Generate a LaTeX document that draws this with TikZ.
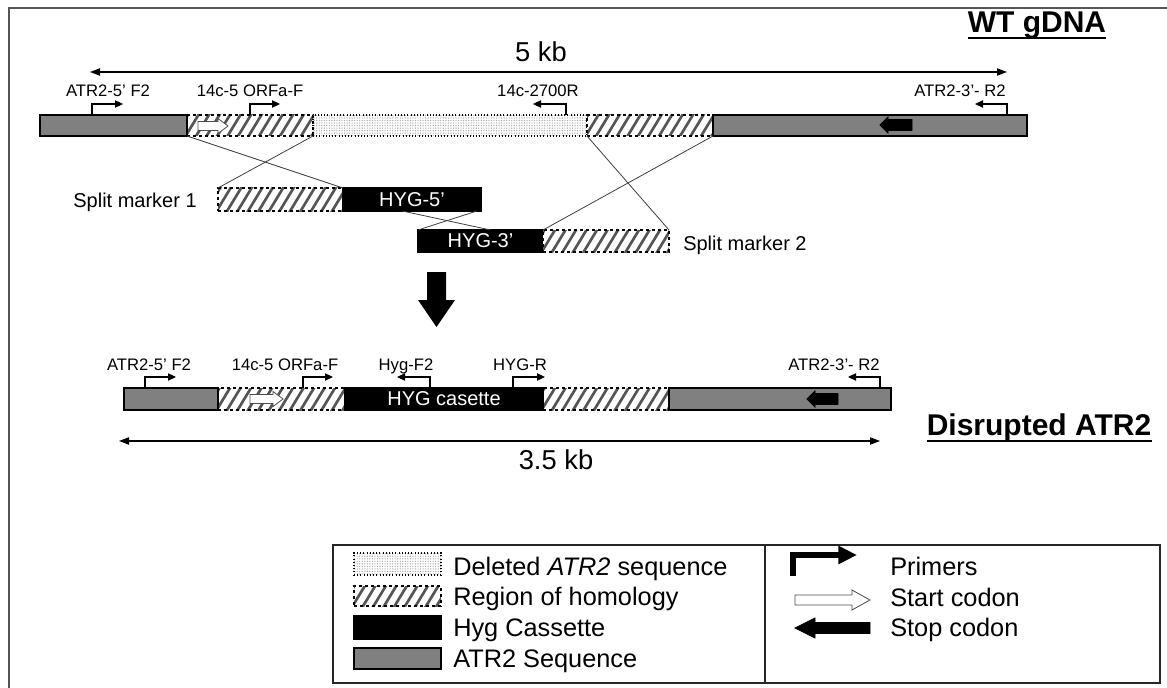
\documentclass[tikz,border=0pt]{standalone}
\usepackage{fontspec}
\setmainfont{Liberation Sans}
\usetikzlibrary{arrows.meta,patterns,patterns.meta,calc}
\definecolor{atrgray}{RGB}{128,128,128}
\definecolor{hatchgray}{RGB}{85,85,85}
\definecolor{framegray}{RGB}{85,85,85}
\newcommand{\mkseg}[7]{\node[#6, inner sep=0, outer sep=0, minimum width={(#3-#2)*0.75pt}, minimum height={(#5-#4)*0.75pt}] (#1) at ({(#2+#3)/2},{(#4+#5)/2}) {#7};}
\newcommand{\mkprimer}[6]{%
  \coordinate (#1b) at (#2,#3); \coordinate (#1t) at (#4,#3-11);
  \draw[primer] (#1b) |- (#1t);
  \node[lbl, anchor=base] (#1l) at (#6,#3-18) {#5};}
\newcommand{\rarrowshape}[7]{\draw[#7] (#1,#3-#4) -- (#2-#6,#3-#4) -- (#2-#6,#3-#5) -- (#2,#3) -- (#2-#6,#3+#5) -- (#2-#6,#3+#4) -- (#1,#3+#4) -- cycle;}
\newcommand{\larrowshape}[7]{\draw[#7] (#2,#3-#4) -- (#1+#6,#3-#4) -- (#1+#6,#3-#5) -- (#1,#3) -- (#1+#6,#3+#5) -- (#1+#6,#3+#4) -- (#2,#3+#4) -- cycle;}
\tikzset{
  segg/.style={draw=black, line width=0.8pt, fill=atrgray},
  segh/.style={draw=black, line width=0.8pt, dash pattern=on 2.5pt off 2pt, fill=white,
    path picture={\foreach \i in {-24,-13.5,...,140}{\draw[hatchgray, line width=2pt, solid] ([xshift=\i*0.75pt, yshift=-2pt]path picture bounding box.south west) -- ++(17,-28);}}},
  segd/.style={draw=black, line width=0.8pt, dash pattern=on 0.8pt off 1.6pt, pattern={Dots[distance=1.9pt,radius=0.5pt]}, pattern color=gray!70},
  segb/.style={draw=black, line width=0.8pt, fill=black, text=white, font=\fontsize{15}{17}\selectfont},
  primer/.style={line width=0.8pt, -{Triangle[length=6pt,width=5.5pt]}},
  lbl/.style={font=\fontsize{12.5}{14}\selectfont, inner sep=0},
  mid/.style={font=\fontsize{15}{17}\selectfont, inner sep=0},
  big/.style={font=\fontsize{20.5}{23}\selectfont, inner sep=0},
  head/.style={font=\fontsize{22.5}{25}\selectfont\bfseries, inner sep=0},
  leg/.style={font=\fontsize{19}{21}\selectfont, inner sep=0, anchor=base west},
  crossln/.style={line width=0.6pt, draw=black!75},
  dim/.style={line width=0.8pt, {Triangle[length=7.5pt,width=5.5pt]}-{Triangle[length=7.5pt,width=5.5pt]}},
  startc/.style={draw=black!70, fill=white, line width=0.6pt},
  stopc/.style={draw=black, fill=black, line width=0.6pt},
}
\begin{document}
\begin{tikzpicture}[x=0.75pt, y=-0.75pt]
\useasboundingbox (0,0) rectangle (1167,688);
\fill[white] (0,0) rectangle (1167,688);
% frame
\draw[framegray, line width=1.6pt] (9,690) -- (9,8) -- (1170,8);

% titles
\node[head] (wt) at (1037,33) [anchor=base] {WT gDNA};
\draw[line width=1.6pt] ([yshift=-4pt]wt.base west) -- ([yshift=-4pt]wt.base east);
\node[head] (dis) at (1039,435) [anchor=base] {Disrupted ATR2};
\draw[line width=1.6pt] ([yshift=-4.5pt]dis.base west) -- ([yshift=-4.5pt]dis.base east);

% top dimension
\coordinate (d1a) at (90,72); \coordinate (d1b) at (1007,72);
\draw[dim] (d1a) -- (d1b);
\node[big, anchor=base] (kb5) at (541,62) {5 kb};

% WT bar
\mkseg{wth1}{187}{313}{115}{136}{segh}{}
\mkseg{wtd}{313}{587}{115}{136}{segd}{}
\mkseg{wth2}{587}{713}{115}{136}{segh}{}
\mkseg{wtg1}{40}{187}{115}{136}{segg}{}
\mkseg{wtg2}{713}{1027}{115}{136}{segg}{}
\rarrowshape{198}{228}{126}{4.5}{7.5}{10}{startc}
\larrowshape{880}{912}{125}{5.5}{8}{8}{stopc}

\mkprimer{p1}{92}{115}{123}{ATR2-5' F2}{108}
\mkprimer{p2}{250}{115}{280}{14c-5 ORFa-F}{250}
\mkprimer{p3}{566}{115}{533}{14c-2700R}{538}
\mkprimer{p4}{1007}{115}{975}{ATR2-3'- R2}{960}

% split markers
\mkseg{sm1}{218}{343}{188}{211}{segh}{}
\mkseg{hyg5}{343}{481}{188}{211}{segb}{HYG-5'}
\mkseg{hyg3}{418}{543}{230}{252}{segb}{HYG-3'}
\mkseg{sm2}{543}{669}{230}{252}{segh}{}
\node[mid, anchor=base east] (sm1l) at (197,208) {Split marker 1};
\node[mid, anchor=base west] (sm2l) at (683,250) {Split marker 2};

\draw[crossln] (wth1.south west) -- (sm1.north east);
\draw[crossln] (wth1.south east) -- (sm1.north west);
\draw[crossln] (wth2.south west) -- (sm2.north east);
\draw[crossln] (wth2.south east) -- (sm2.north west);
\draw[crossln] ($(hyg5.south west)!0.43!(hyg5.south east)$) -- ($(hyg3.north west)!0.58!(hyg3.north east)$);
\draw[crossln] ($(hyg5.south west)!0.97!(hyg5.south east)$) -- (hyg3.north west);

% big arrow
\fill (427,272) -- (446,272) -- (446,300) -- (455,300) -- (436.5,327) -- (418,300) -- (427,300) -- cycle;

% disrupted bar
\mkseg{dh1}{218}{345}{388}{410}{segh}{}
\mkseg{dh2}{543}{669}{388}{410}{segh}{}
\mkseg{dg1}{124}{218}{388}{410}{segg}{}
\mkseg{dg2}{669}{891}{388}{410}{segg}{}
\mkseg{dhyg}{345}{543}{388}{410}{segb}{HYG casette}
\rarrowshape{250}{283}{399}{4.5}{7.5}{10}{startc}
\larrowshape{807}{838}{399}{5.5}{8}{8}{stopc}

\mkprimer{q1}{145}{388}{176}{ATR2-5' F2}{149}
\mkprimer{q2}{303}{388}{333}{14c-5 ORFa-F}{285}
\mkprimer{q3}{430}{388}{397}{Hyg-F2}{406}
\mkprimer{q4}{513}{388}{545}{HYG-R}{520}
\mkprimer{q5}{880}{388}{848}{ATR2-3'- R2}{834}

% bottom dimension
\coordinate (d2a) at (119,441); \coordinate (d2b) at (880,441);
\draw[dim] (d2a) -- (d2b);
\node[big, anchor=base] (kb35) at (556,469) {3.5 kb};

% legend
\draw[line width=0.8pt, draw=black!85] (333,545) rectangle (1160,683);
\draw[line width=0.8pt, draw=black!85] (765,545) -- (765,683);
\mkseg{ld}{354}{441}{553}{575}{segd}{}
\mkseg{lh}{354}{441}{586}{606}{segh}{}
\mkseg{lb}{354}{441}{616}{639}{segb}{}
\mkseg{lg}{354}{441}{648}{669}{segg}{}
\node[leg] (ldt) at (453,575) {Deleted \textit{ATR2} sequence};
\node[leg] (lht) at (453,605) {Region of homology};
\node[leg] (lbt) at (453,636) {Hyg Cassette};
\node[leg] (lgt) at (453,667) {ATR2 Sequence};

\coordinate (lpb) at (793,576); \coordinate (lpt) at (857,555);
\draw[line width=3.8pt, -{Triangle[length=14pt,width=13pt]}] (lpb) |- (lpt);
\rarrowshape{795}{870}{600}{5}{10}{18}{startc}
\larrowshape{795}{870}{628}{5.5}{10}{20}{stopc}
\node[leg] (lpt2) at (890,575) {Primers};
\node[leg] (lst) at (890,606) {Start codon};
\node[leg] (lsp) at (890,636) {Stop codon};
\end{tikzpicture}
\end{document}
